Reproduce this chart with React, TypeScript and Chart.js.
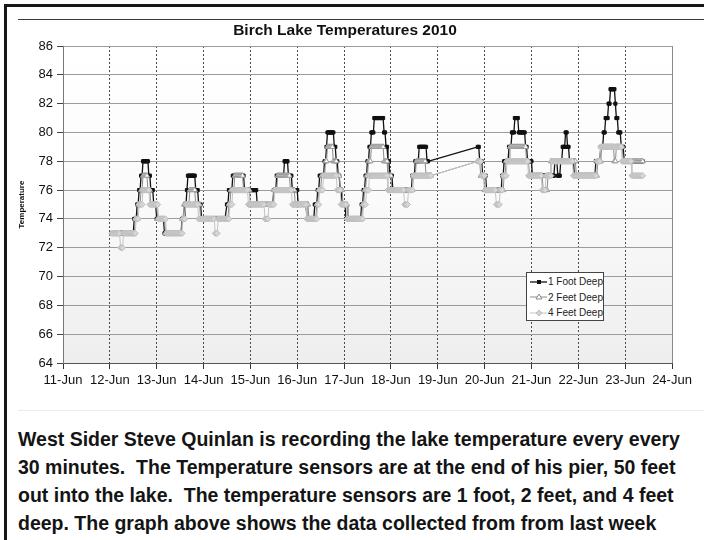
import React, { useEffect, useRef } from 'react';
import { Chart, registerables } from 'chart.js';

Chart.register(...registerables);

// ---------- data ----------
const dayNumbers = [11, 12, 13, 14, 15, 16, 17, 18, 19, 20, 21, 22, 23, 24];
const dayLabels = ['11-Jun', '12-Jun', '13-Jun', '14-Jun', '15-Jun', '16-Jun', '17-Jun', '18-Jun', '19-Jun', '20-Jun', '21-Jun', '22-Jun', '23-Jun', '24-Jun'];
const yTicks = [64, 66, 68, 70, 72, 74, 76, 78, 80, 82, 84, 86];
const seriesNames = ['1 Foot Deep', '2 Feet Deep', '4 Feet Deep'];
const chartTitle = 'Birch Lake Temperatures 2010';
const yAxisTitle = 'Temperature';

// readings every 30 minutes; hours counted from 12-Jun 00:00.
// each pair = [hour the reading changes, temperature from then on] (null = no readings)
const readingStartDay = 12;
const readingInterval = 0.5;

const foot1Steps: [number, number | null][] = [
  [1, 73], [12.5, 74], [14, 75], [15, 76], [16, 77], [17, 78], [20, 77], [21, 76], [22.5, 75], [24, 74],
  [28, 73], [37, 74], [38.5, 75], [39.5, 76], [40, 77], [44, 76], [45.5, 75], [47, 74], [60, 75], [61, 76],
  [63, 77], [69, 76], [75.5, 75], [84, 76], [85.5, 77], [89.5, 78], [91.5, 77], [93.5, 76], [96.5, 75], [101, 74],
  [105, 75], [106.5, 76], [107.5, 77], [110, 78], [111, 79], [111.5, 80], [115, 79], [116, 78], [117, 77], [118, 76],
  [119, 75], [121, 74], [129, 75], [130, 76], [131, 77], [132, 78], [133, 79], [134, 80], [135.5, 81], [140.5, 80],
  [141.5, 79], [142.5, 78], [143.5, 77], [145, 76], [155, 77], [156.5, 78], [158.5, 79], [162.5, 78], [163.5, null],
  [188.5, 79], [189.5, 78], [191, 77], [193, 76], [201, 77], [202, 78], [204.5, 79], [206, 80], [207.5, 81], [209.5, 80],
  [213, 79], [214, 78], [216.5, 77], [228, 78], [229.5, 77], [231, 78], [232, 79], [233.5, 80], [234.5, 79], [235.5, 78],
  [238, 77], [249, 78], [251.5, 79], [253, 80], [254, 81], [255.5, 82], [256.5, 83], [259, 82], [259.5, 81], [260.5, 80],
  [262, 79], [263.5, 78],
];
const foot2Steps: [number, number | null][] = [
  [1, 73], [13, 74], [14.5, 75], [16, 76], [17, 77], [19.5, 76], [21, 75], [24.5, 74], [28.5, 73], [37, 74],
  [38, 75], [41, 76], [44, 75], [46.5, 74], [61, 75], [62, 76], [64, 77], [68.5, 76], [72, 75], [84, 76],
  [86, 77], [92.5, 76], [95, 75], [102, 74], [106, 75], [107, 76], [108.5, 77], [110.5, 78], [111.5, 79], [114.5, 78],
  [116.5, 77], [118, 76], [119.5, 75], [122, 74], [129.5, 75], [130.5, 76], [131.5, 77], [132.5, 78], [134, 79], [140.5, 78],
  [142.5, 77], [144.5, 76], [155.5, 77], [157, 78], [162, 77], [165, null], [188.5, 78], [190, 77], [192, 76], [202, 77],
  [203, 78], [205, 79], [213.5, 78], [215, 77], [222, 76], [224.5, 77], [226, 78], [239, 77], [250, 78], [252, 79],
  [258.5, 78], [259.5, 79], [263, 78],
];
const foot4Steps: [number, number | null][] = [
  [1, 73], [5.5, 72], [7, 73], [13.5, 74], [15, 75], [17, 76], [20.5, 75], [25, 74], [29, 73], [37.5, 74],
  [39, 75], [45.5, 74], [54, 73], [55.5, 74], [61.5, 75], [63, 76], [71, 75], [79.5, 74], [81.5, 75], [84.5, 76],
  [93.5, 75], [101, 74], [106.5, 75], [107.5, 76], [109.5, 77], [116.5, 76], [118.5, 75], [121.5, 74], [130, 75], [131.5, 76],
  [133, 77], [142.5, 76], [151, 75], [153, 76], [155.5, 77], [165, null], [188.5, 78], [190.5, 77], [192.5, 76], [198, 75],
  [200, 76], [201.5, 77], [203.5, 78], [214.5, 77], [221.5, 76], [223.5, 77], [226.5, 78], [237.5, 77], [249.5, 78], [251.5, 79],
  [262.5, 78], [267.5, 77],
];
const lastReadingHour = 273;

const noteLines = [
  'West Sider Steve Quinlan is recording the lake temperature every every',
  '30 minutes.  The Temperature sensors are at the end of his pier, 50 feet',
  'out into the lake.  The temperature sensors are 1 foot, 2 feet, and 4 feet',
  'deep. The graph above shows the data collected from from last week',
];

// decode the run-length steps into the 30-minute readings
function decode(steps: [number, number | null][], end: number) {
  const pts: { x: number; y: number }[] = [];
  for (let i = 0; i < steps.length; i++) {
    const [h, t] = steps[i];
    const next = i + 1 < steps.length ? steps[i + 1][0] : end + readingInterval;
    if (t === null) continue;
    for (let s = h; s < next - 1e-9; s += readingInterval) {
      pts.push({ x: readingStartDay + s / 24, y: t });
    }
  }
  return pts;
}

const FONT = '"Liberation Sans", Arial, Helvetica, sans-serif';

const plotBackground = {
  id: 'plotBackground',
  beforeDraw(chart: any) {
    const { ctx, chartArea } = chart;
    if (!chartArea) return;
    const g = ctx.createLinearGradient(0, chartArea.top, 0, chartArea.bottom);
    g.addColorStop(0, '#ffffff');
    g.addColorStop(0.45, '#fbfbfb');
    g.addColorStop(1, '#eeeeee');
    ctx.save();
    ctx.fillStyle = g;
    ctx.fillRect(chartArea.left, chartArea.top, chartArea.right - chartArea.left, chartArea.bottom - chartArea.top);
    ctx.restore();
  },
  afterDraw(chart: any) {
    const { ctx, chartArea } = chart;
    ctx.save();
    ctx.strokeStyle = '#8a8a8a';
    ctx.lineWidth = 1;
    ctx.beginPath();
    ctx.moveTo(chartArea.right + 0.5, chartArea.top);
    ctx.lineTo(chartArea.right + 0.5, chartArea.bottom);
    ctx.stroke();
    ctx.restore();
  },
};

function LegendSample({ kind }: { kind: number }) {
  if (kind === 0) {
    return (
      <svg width={20} height={10} style={{ display: 'block' }}>
        <line x1={1} y1={5} x2={19} y2={5} stroke="#111" strokeWidth={1.3} />
        <rect x={8} y={3} width={4} height={4} fill="#111" />
      </svg>
    );
  }
  if (kind === 1) {
    return (
      <svg width={20} height={10} style={{ display: 'block' }}>
        <line x1={1} y1={5} x2={19} y2={5} stroke="#8c8c8c" strokeWidth={1} />
        <polygon points="10,2 13,7 7,7" fill="#fff" stroke="#8c8c8c" strokeWidth={1} />
      </svg>
    );
  }
  return (
    <svg width={20} height={10} style={{ display: 'block' }}>
      <line x1={1} y1={5} x2={19} y2={5} stroke="#c4c4c4" strokeWidth={1} />
      <polygon points="10,2 13,5 10,8 7,5" fill="#d4d4d4" stroke="#bdbdbd" strokeWidth={1} />
    </svg>
  );
}

export default function App() {
  const canvasRef = useRef<HTMLCanvasElement | null>(null);

  useEffect(() => {
    if (!canvasRef.current) return;
    const chart = new Chart(canvasRef.current, {
      type: 'line',
      data: {
        datasets: [
          {
            label: seriesNames[0],
            data: decode(foot1Steps, lastReadingHour),
            borderColor: '#111111',
            borderWidth: 1.3,
            pointStyle: 'rect',
            pointRadius: 2.2,
            pointBackgroundColor: '#111111',
            pointBorderColor: '#111111',
            pointBorderWidth: 1,
            tension: 0,
            fill: false,
            order: 3,
          },
          {
            label: seriesNames[1],
            data: decode(foot2Steps, lastReadingHour),
            borderColor: '#8c8c8c',
            borderWidth: 1,
            pointStyle: 'triangle',
            pointRadius: 3,
            pointBackgroundColor: '#ffffff',
            pointBorderColor: '#9a9a9a',
            pointBorderWidth: 1,
            tension: 0,
            fill: false,
            order: 2,
          },
          {
            label: seriesNames[2],
            data: decode(foot4Steps, lastReadingHour),
            borderColor: '#c4c4c4',
            borderWidth: 1,
            pointStyle: 'rectRot',
            pointRadius: 3,
            pointBackgroundColor: '#d6d6d6',
            pointBorderColor: '#c0c0c0',
            pointBorderWidth: 1,
            tension: 0,
            fill: false,
            order: 1,
          },
        ],
      },
      options: {
        responsive: false,
        animation: false,
        devicePixelRatio: 1,
        events: [],
        layout: { padding: { left: 17, right: 32, top: 46, bottom: 0 } },
        plugins: {
          legend: { display: false },
          title: { display: false },
          tooltip: { enabled: false },
        },
        scales: {
          x: {
            type: 'linear',
            min: 11,
            max: 24,
            afterBuildTicks: (scale: any) => {
              scale.ticks = dayNumbers.map((v) => ({ value: v }));
            },
            afterFit: (scale: any) => {
              scale.height = 32;
            },
            grid: { color: '#4a4a4a', lineWidth: 1, tickLength: 6, tickColor: '#333', drawTicks: true },
            border: { display: true, color: '#555', dash: [2, 2] },
            ticks: {
              color: '#111',
              font: { family: FONT, size: 13 },
              padding: 4,
              maxRotation: 0,
              autoSkip: false,
              callback: (_v: any, i: number) => dayLabels[i],
            },
          },
          y: {
            min: 64,
            max: 86,
            afterBuildTicks: (scale: any) => {
              scale.ticks = yTicks.map((v) => ({ value: v }));
            },
            afterFit: (scale: any) => {
              scale.width = 46;
            },
            grid: { color: '#9c9c9c', lineWidth: 1, tickLength: 6, tickColor: '#444' },
            border: { color: '#777' },
            ticks: { color: '#111', font: { family: FONT, size: 13 }, padding: 4 },
            title: {
              display: true,
              text: yAxisTitle,
              color: '#111',
              font: { family: FONT, size: 8, weight: 'bold' },
              padding: 0,
            },
          },
        },
      },
      plugins: [plotBackground],
    } as any);
    return () => chart.destroy();
  }, []);

  return (
    <div
      style={{
        position: 'absolute',
        left: 0,
        top: 0,
        width: 704,
        height: 540,
        overflow: 'hidden',
        background: '#fff',
        fontFamily: FONT,
        color: '#111',
      }}
    >
      <div
        style={{
          position: 'absolute',
          left: 4,
          top: 4,
          width: 720,
          height: 560,
          borderLeft: '3px solid #161616',
          borderTop: '3px solid #161616',
        }}
      />
      <div style={{ position: 'absolute', left: 18, top: 19, width: 686, height: 1, background: '#3a3a3a' }} />
      <canvas ref={canvasRef} width={704} height={395} style={{ position: 'absolute', left: 0, top: 0 }} />
      <div
        style={{
          position: 'absolute',
          left: 0,
          top: 21,
          width: 690,
          textAlign: 'center',
          fontWeight: 'bold',
          fontSize: 15.5,
          lineHeight: '18px',
        }}
      >
        {chartTitle}
      </div>
      <div
        style={{
          position: 'absolute',
          left: 526,
          top: 272,
          width: 78,
          height: 49,
          boxSizing: 'border-box',
          border: '1px solid #444',
          background: '#fff',
          fontSize: 10,
          lineHeight: '15px',
          paddingTop: 1,
        }}
      >
        {seriesNames.map((n, i) => (
          <div key={n} style={{ display: 'flex', alignItems: 'center', height: 15.5, paddingLeft: 2, color: '#222' }}>
            <LegendSample kind={i} />
            <span style={{ marginLeft: 1, whiteSpace: 'nowrap' }}>{n}</span>
          </div>
        ))}
      </div>
      <div style={{ position: 'absolute', left: 18, top: 410, width: 686, height: 1, background: '#ececec' }} />
      <div
        style={{
          position: 'absolute',
          left: 18,
          top: 425,
          fontWeight: 'bold',
          fontSize: 19.5,
          lineHeight: '28px',
          color: '#141414',
        }}
      >
        {noteLines.map((l, i) => (
          <div key={i} style={{ whiteSpace: 'pre' }}>
            {l}
          </div>
        ))}
      </div>
    </div>
  );
}
